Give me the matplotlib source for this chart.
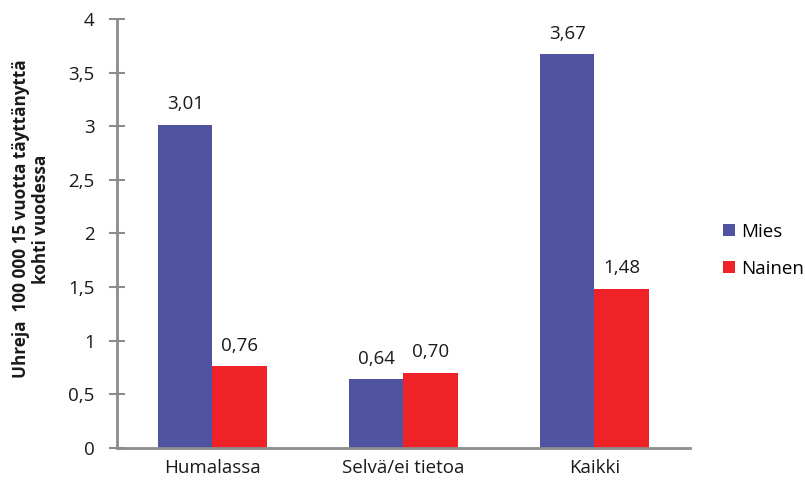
import matplotlib
matplotlib.use("Agg")
import matplotlib.pyplot as plt
import numpy as np
from matplotlib.patches import Patch

categories = ["Humalassa", "Selvä/ei tietoa", "Kaikki"]
mies = [3.01, 0.64, 3.67]
nainen = [0.76, 0.70, 1.48]
yticks = [0, 0.5, 1, 1.5, 2, 2.5, 3, 3.5, 4]

plt.rcParams['font.family'] = ['Open Sans', 'DejaVu Sans']

blue = "#5053A1"
red = "#EE2227"
axcol = "#8C8C8C"
txt = "#1a1a1a"
fs = 13.5

fig = plt.figure(figsize=(8.05, 4.87), dpi=100)
ax = fig.add_axes([0.1453, 0.0801, 0.7118, 0.8809])

x = np.arange(len(categories))
w = 0.285
b1 = ax.bar(x - w/2, mies, w, color=blue)
b2 = ax.bar(x + w/2, nainen, w, color=red)

def fmt(v):
    return f"{v:.2f}".replace(".", ",")

for rect, v in zip(b1, mies):
    ax.text(rect.get_x() + rect.get_width()/2, v + 0.11, fmt(v), ha="center", va="bottom", fontsize=fs, color=txt)
for rect, v in zip(b2, nainen):
    ax.text(rect.get_x() + rect.get_width()/2, v + 0.11, fmt(v), ha="center", va="bottom", fontsize=fs, color=txt)

ax.set_xlim(-0.5, 2.5)
ax.set_ylim(0, 4)
ax.set_yticks(yticks)
ax.set_yticklabels([f"{t:g}".replace(".", ",") for t in yticks], fontsize=fs, color=txt)
ax.set_xticks(x)
ax.set_xticklabels(categories, fontsize=fs, color=txt)
ax.tick_params(axis="x", length=0, pad=8)
ax.tick_params(axis="y", direction="inout", length=12, width=1.5, color=axcol, pad=10)

for s in ["top", "right"]:
    ax.spines[s].set_visible(False)
for s in ["left", "bottom"]:
    ax.spines[s].set_color(axcol)
    ax.spines[s].set_linewidth(2)

ax.set_ylabel("Uhreja  100 000 15 vuotta täyttänyttä\nkohti vuodessa", fontsize=12.3, fontweight="bold",
              color=txt, linespacing=1.15)
ax.yaxis.set_label_coords(-0.117, 0.534)

handles = [Patch(facecolor=blue), Patch(facecolor=red)]
fig.legend(handles, ["Mies", "Nainen"], loc="upper left", bbox_to_anchor=(0.889, 0.558),
           frameon=False, fontsize=fs, handlelength=0.65, handleheight=0.65,
           handletextpad=0.3, labelspacing=1.0, borderaxespad=0)

fig.savefig("out.png", dpi=100)
